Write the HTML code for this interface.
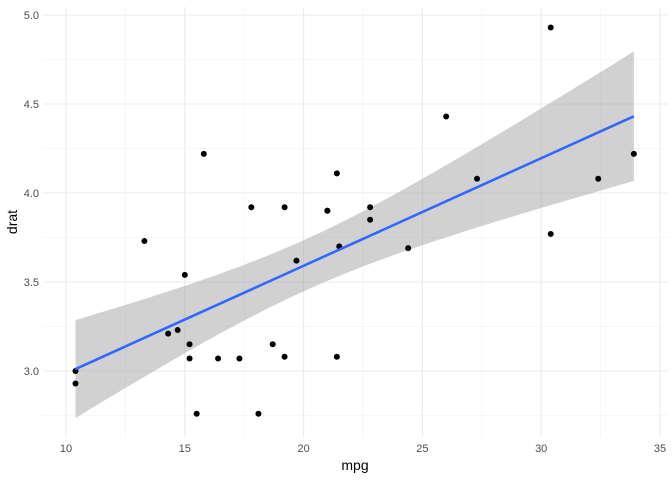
<!DOCTYPE html>
<html><head><meta charset="utf-8"><style>
body{margin:0;background:#fff;font-family:"Liberation Sans",sans-serif}
svg text{font-family:"Liberation Sans",sans-serif}
</style></head><body>
<svg id="chart" width="672" height="480" viewBox="0 0 672 480" xmlns="http://www.w3.org/2000/svg">
<g id="grid"></g>
<g id="band"></g>
<g id="points"></g>
<g id="line"></g>
<g id="axes"></g>
<text x="355" y="470" text-anchor="middle" font-size="14" fill="#000">mpg</text>
<text transform="translate(17,222) rotate(-90)" text-anchor="middle" font-size="14" fill="#000">drat</text>
</svg>
<script>
const mpg=[21.0,21.0,22.8,21.4,18.7,18.1,14.3,24.4,22.8,19.2,17.8,16.4,17.3,15.2,10.4,10.4,14.7,32.4,30.4,33.9,21.5,15.5,15.2,13.3,19.2,27.3,26.0,30.4,15.8,19.7,15.0,21.4];
const drat=[3.90,3.90,3.85,3.08,3.15,2.76,3.21,3.69,3.92,3.92,3.92,3.07,3.07,3.07,2.93,3.00,3.23,4.08,4.93,4.22,3.70,2.76,3.15,3.73,3.08,4.08,4.43,3.77,4.22,3.62,3.54,4.11];
const xTicks=[10,15,20,25,30,35];
const yTicks=[3.0,3.5,4.0,4.5,5.0];
const xMinor=[12.5,17.5,22.5,27.5,32.5];
const yMinor=[2.75,3.25,3.75,4.25,4.75];
const X0=43,X1=668,Y0=7,Y1=437;
const xs=v=>66+(v-10)*23.76;
const ys=v=>371-(v-3)*178;
const NS="http://www.w3.org/2000/svg";
function mk(tag,attrs,parent){const e=document.createElementNS(NS,tag);for(const k in attrs)e.setAttribute(k,attrs[k]);parent.appendChild(e);return e;}
const grid=document.getElementById('grid');
xMinor.forEach(v=>{const l=mk('line',{x1:xs(v),x2:xs(v),y1:Y0,y2:Y1,stroke:'#f0f0f0','stroke-width':0.6},grid);

});
yMinor.forEach(v=>{const l=mk('line',{x1:X0,x2:X1,y1:ys(v),y2:ys(v),stroke:'#f0f0f0','stroke-width':0.6},grid);

});
const axes=document.getElementById('axes');
xTicks.forEach(v=>{const l=mk('line',{x1:xs(v),x2:xs(v),y1:Y0,y2:Y1,stroke:'#ebebeb','stroke-width':1.1},grid);


const t=mk('text',{x:xs(v),y:452,'text-anchor':'middle','font-size':11,fill:'#4d4d4d'},axes);t.textContent=v;

});
yTicks.forEach(v=>{const l=mk('line',{x1:X0,x2:X1,y1:ys(v),y2:ys(v),stroke:'#ebebeb','stroke-width':1.1},grid);


const t=mk('text',{x:39,y:ys(v)+4,'text-anchor':'end','font-size':11,fill:'#4d4d4d'},axes);t.textContent=v.toFixed(1);

});
// linear fit
const n=mpg.length;const mx=mpg.reduce((a,b)=>a+b)/n,my=drat.reduce((a,b)=>a+b)/n;
let sxx=0,sxy=0;for(let i=0;i<n;i++){sxx+=(mpg[i]-mx)**2;sxy+=(mpg[i]-mx)*(drat[i]-my);}
const b=sxy/sxx,a=my-b*mx;let sse=0;for(let i=0;i<n;i++)sse+=(drat[i]-a-b*mpg[i])**2;
const s=Math.sqrt(sse/(n-2)),tq=2.042;
const lo=Math.min(...mpg),hi=Math.max(...mpg);
const up=[],dn=[];
for(let k=0;k<=80;k++){const x=lo+(hi-lo)*k/80;const f=a+b*x;const se=s*Math.sqrt(1/n+(x-mx)**2/sxx);
up.push([xs(x),ys(f+tq*se)]);dn.push([xs(x),ys(f-tq*se)]);}
const poly=up.concat(dn.reverse()).map(p=>p.join(',')).join(' ');
const bp=mk('polygon',{points:poly,fill:'#999','fill-opacity':0.45},document.getElementById('band'));


const pts=document.getElementById('points');
for(let i=0;i<n;i++){const c=mk('circle',{cx:xs(mpg[i]),cy:ys(drat[i]),r:3,fill:'#000'},pts);

}
const ln=mk('line',{x1:xs(lo),y1:ys(a+b*lo),x2:xs(hi),y2:ys(a+b*hi),stroke:'#3366ff','stroke-width':2.6},document.getElementById('line'));


</script>
</body></html>
